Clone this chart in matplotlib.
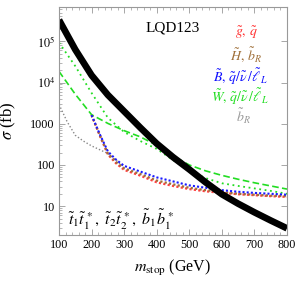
import matplotlib
matplotlib.use("Agg")
import matplotlib.pyplot as plt
from matplotlib.ticker import FixedLocator, MultipleLocator, LogLocator, NullFormatter

plt.rcParams['font.family'] = ['Liberation Serif', 'DejaVu Serif']
plt.rcParams['mathtext.fontset'] = 'stix'

# ---- data ----
mass = [100, 150, 200, 250, 300, 350, 400, 450, 500, 550, 600, 650, 700, 750, 800]
sigma_total = [3.3e5, 6.3e4, 1.5e4, 5000, 2000, 800, 330, 155, 78, 38, 19.5, 11.5, 7.1, 4.5, 2.9]
wino_dotted = [9.3e4, 2.5e4, 5600, 1400, 630, 380, 245, 132, 74, 48, 36, 31, 27, 23.5, 20]
wino_dashed = [1.86e4, 5200, 1660, 1020, 680, 480, 300, 166, 100, 72, 56, 45, 37, 31, 26]

mass_bR = [100, 125, 150, 175, 200, 250, 300]
sbottomR = [2950, 1120, 525, 380, 290, 190, 89]

mass_low = [200, 225, 250, 275, 300, 350, 400, 450, 500, 550, 600, 650, 700, 750, 800]
bino = [1620, 560, 214, 135, 95, 69, 50, 40, 32, 28, 24.5, 22.4, 21, 20, 19]
higgsino = [1620, 540, 190, 118, 83, 60, 42, 34, 28, 24.5, 22, 20, 19, 18, 17.5]
gluino = [1620, 520, 180, 110, 76, 55, 38, 31, 26, 23, 21, 19.5, 18.5, 17.5, 16.8]

xticks = [100, 200, 300, 400, 500, 600, 700, 800]
yticks = [10, 100, 1000, 1e4, 1e5]
ytick_labels = ["10", "100", "1000", r"$10^4$", r"$10^5$"]

legend_labels = [r"$\tilde{g},\,\tilde{q}$", r"$\tilde{H},\,\tilde{b}_R$",
                 r"$\tilde{B},\,\tilde{q}/\tilde{\nu}\,/\tilde{\ell}_{\,L}$",
                 r"$\tilde{W},\,\tilde{q}/\tilde{\nu}\,/\tilde{\ell}_{\,L}$", r"$\tilde{b}_R$"]
legend_colors = ["#ff3030", "#a0703a", "#1010ff", "#20dd20", "#999999"]

# ---- figure ----
fig = plt.figure(figsize=(3.0, 2.83), dpi=100)
ax = fig.add_axes([59/300, 1-235/283, 228/300, 228/283])

ax.plot(mass_bR, sbottomR, color="#888888", lw=1.0, ls=(0, (1, 1.5)))
ax.plot(mass, wino_dashed, color="#22dd22", lw=1.2, ls=(0, (4, 2)))
ax.plot(mass, wino_dotted, color="#22dd22", lw=1.3, ls=(0, (1, 2)))
ax.plot(mass_low, gluino, color="#ff4040", lw=1.6, ls=(0, (1, 1)))
ax.plot(mass_low, higgsino, color="#a0703a", lw=1.6, ls=(0, (1, 1)))
ax.plot(mass_low, bino, color="#1a1aff", lw=1.5, ls=(0, (1, 1)))
ax.plot(mass, sigma_total, color="black", lw=4.8, solid_capstyle="butt")

ax.set_yscale("log")
ax.set_xlim(100, 800)
ax.set_ylim(2.0, 6.8e5)

ax.xaxis.set_major_locator(FixedLocator(xticks))
ax.set_xticklabels([str(t) for t in xticks])
ax.xaxis.set_minor_locator(MultipleLocator(20))
ax.yaxis.set_major_locator(FixedLocator(yticks))
ax.set_yticklabels(ytick_labels)
ax.yaxis.set_minor_locator(LogLocator(base=10, subs=range(2, 10)))
ax.yaxis.set_minor_formatter(NullFormatter())

for s in ax.spines.values():
    s.set_color("#999999")
    s.set_linewidth(0.8)
ax.tick_params(which="both", direction="in", top=True, right=True, color="#999999",
               labelsize=8.7, pad=3)
ax.tick_params(which="major", length=4, width=0.6)
ax.tick_params(which="minor", length=2, width=0.5)
ax.tick_params(axis="y", which="minor", left=True, right=False)

ax.set_xlabel(r"$m_{\rm stop}$ (GeV)", fontsize=11.5, labelpad=5)
ax.set_ylabel(r"$\sigma$ (fb)", fontsize=12, labelpad=9)

ax.text(0.5, 0.91, "LQD123", transform=ax.transAxes, fontsize=11, ha="center", va="center")
ys = [0.887, 0.790, 0.694, 0.607, 0.520]
xs = [0.82, 0.82, 0.795, 0.795, 0.81]
for lab, col, yy, xx in zip(legend_labels, legend_colors, ys, xs):
    ax.text(xx, yy, lab, transform=ax.transAxes, color=col, fontsize=10, ha="center", va="center")

ax.text(0.04, 0.065, r"$\tilde{t}_1\tilde{t}_1^{\,*},\ \tilde{t}_2\tilde{t}_2^{\,*},\ \tilde{b}_1\tilde{b}_1^{\,*}$",
        transform=ax.transAxes, fontsize=11.5, ha="left", va="center")

fig.savefig("out.png", dpi=100)
